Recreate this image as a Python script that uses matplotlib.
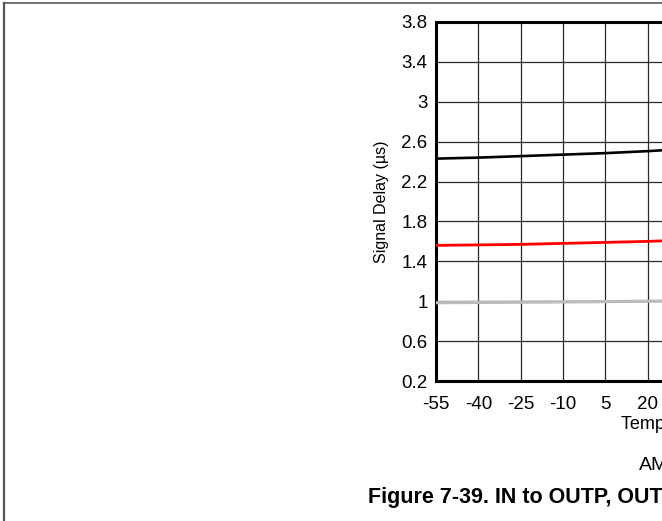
import numpy as np
import matplotlib.pyplot as plt
from matplotlib.lines import Line2D

plt.rcParams['font.family'] = ['Liberation Sans', 'DejaVu Sans']
plt.rcParams['axes.unicode_minus'] = False

# Datos (temperatura en °C, retardo en µs)
temperatura = [-55, -40, -25, -10, 5, 20, 35, 50, 65, 80, 95, 110, 125]
retardo_negro = [2.43, 2.44, 2.455, 2.47, 2.485, 2.505, 2.53, 2.555, 2.58, 2.61, 2.64, 2.67, 2.70]
retardo_rojo = [1.56, 1.565, 1.57, 1.58, 1.59, 1.60, 1.615, 1.63, 1.645, 1.66, 1.68, 1.70, 1.72]
retardo_gris = [0.985, 0.988, 0.99, 0.993, 0.996, 1.0, 1.005, 1.01, 1.015, 1.02, 1.03, 1.04, 1.05]
yticks = [0.2, 0.6, 1, 1.4, 1.8, 2.2, 2.6, 3, 3.4, 3.8]
ytick_labels = ['0.2', '0.6', '1', '1.4', '1.8', '2.2', '2.6', '3', '3.4', '3.8']

W, H = 662, 521
fig = plt.figure(figsize=(W / 100, H / 100), dpi=100)

# marco de la página (recortado)
fig.add_artist(Line2D([4 / W, 1.0], [1 - 3 / H, 1 - 3 / H], color='#555555', lw=1.2))
fig.add_artist(Line2D([4 / W, 4 / W], [0, 1 - 3 / H], color='#555555', lw=1.6))

# los ejes continúan más allá del borde derecho
ax = fig.add_axes([436 / W, 1 - 381 / H, 508 / W, 359 / H])
ax.plot(temperatura, retardo_gris, color='#bbbbbb', lw=2.3, zorder=3)
ax.plot(temperatura, retardo_rojo, color='#ff0000', lw=2.0, zorder=3)
ax.plot(temperatura, retardo_negro, color='black', lw=1.9, zorder=3)

ax.set_xlim(-55, 125)
ax.set_ylim(0.2, 3.8)
ax.set_xticks(temperatura)
ax.set_yticks(yticks)
ax.set_yticklabels(ytick_labels)
ax.tick_params(length=0, labelsize=13.5)
ax.tick_params(axis='x', pad=11)
ax.tick_params(axis='y', pad=6)
ax.grid(True, color='#2a2a2a', lw=0.9)
for s in ax.spines.values():
    s.set_linewidth(2.2)

ax.set_ylabel('Signal Delay (µs)', fontsize=11.5, labelpad=9)
ax.set_xlabel('Temperature (°C)', fontsize=13, labelpad=2)

fig.text(639 / W, 1 - 470 / H, 'AM', fontsize=14, ha='left', va='baseline')
fig.text(368 / W, 1 - 503 / H, 'Figure 7-39. IN to OUTP, OUTN Signal Delay vs Temperature',
         fontsize=15.5, fontweight='bold', ha='left', va='baseline')

fig.savefig('out.png', dpi=100)
